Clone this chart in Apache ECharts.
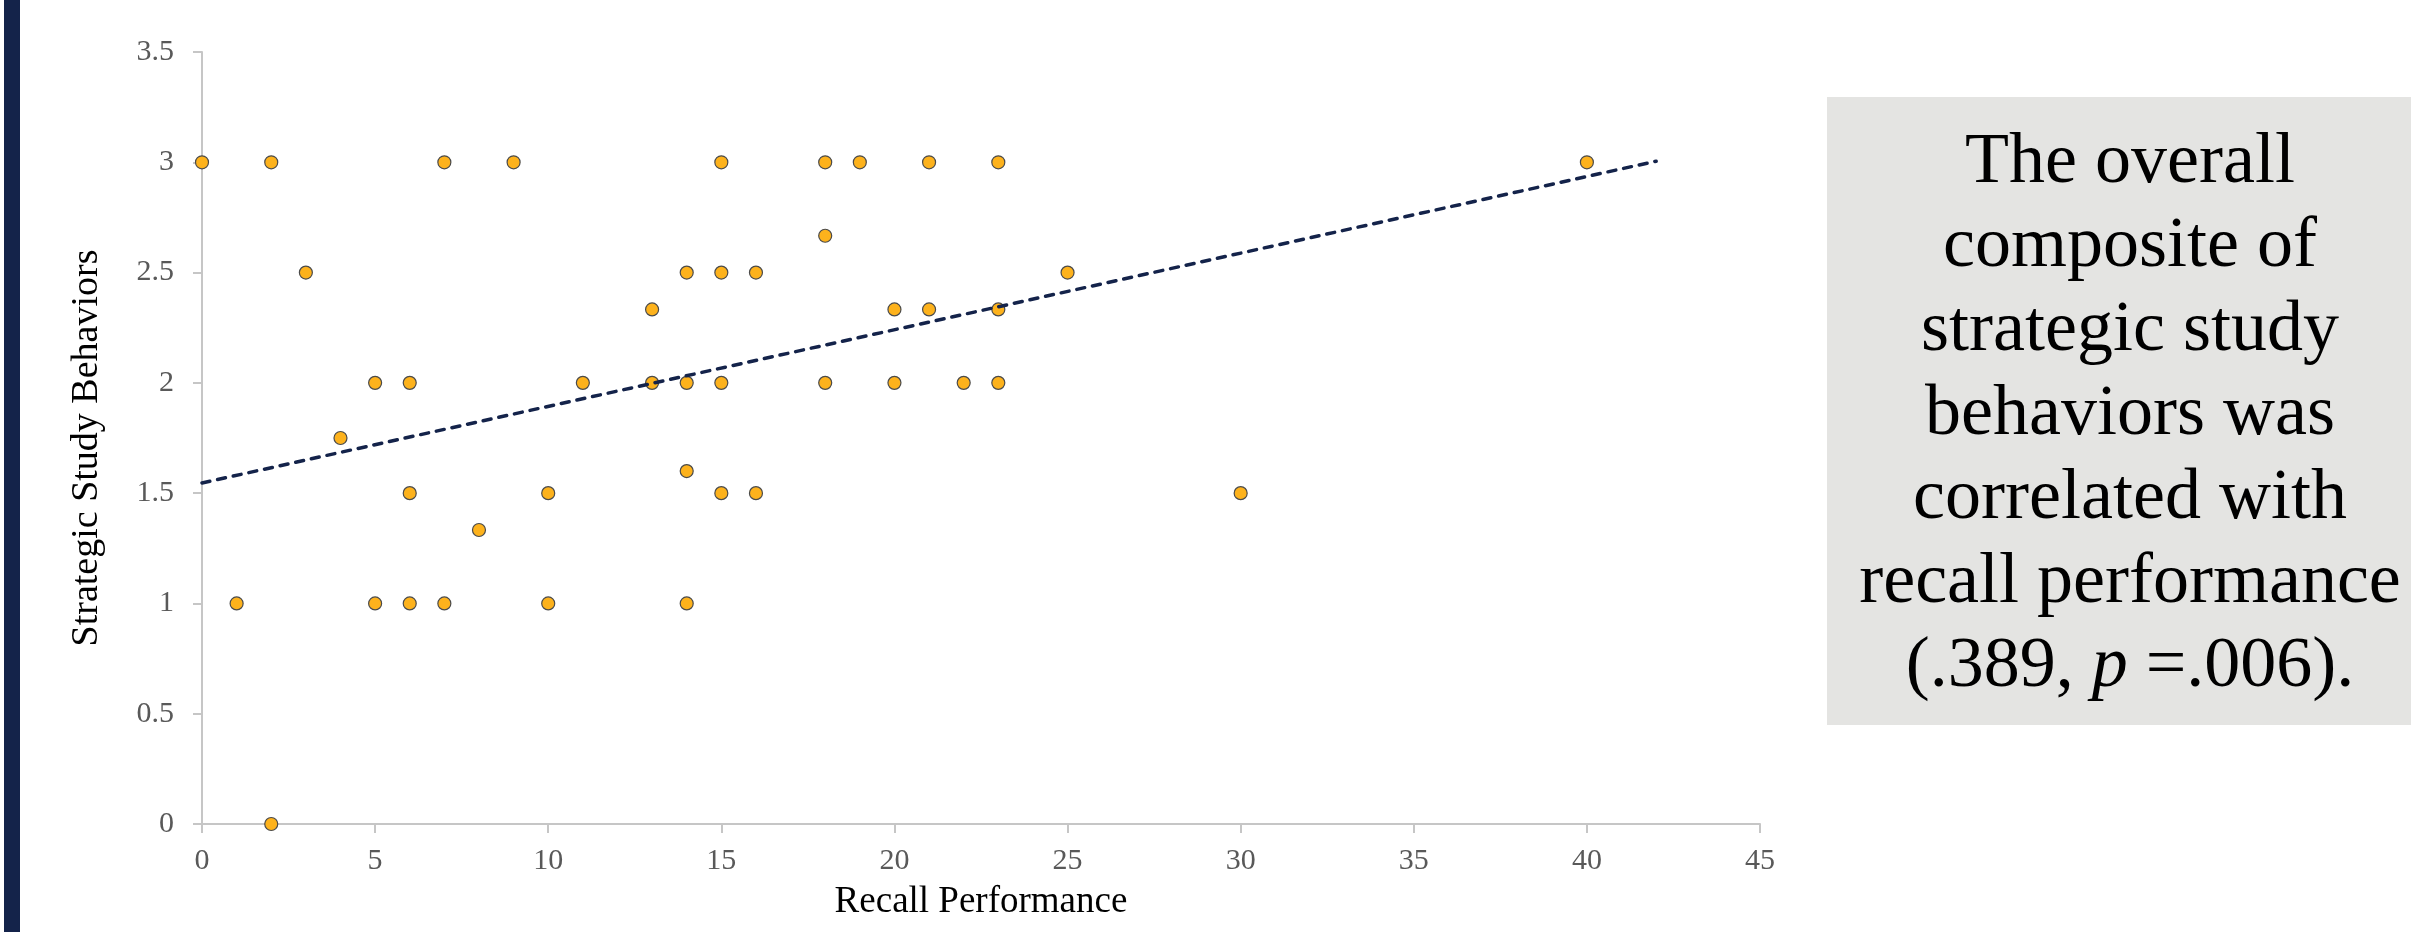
<!DOCTYPE html>
<html>
<head>
<meta charset="utf-8">
<style>
  html, body { margin: 0; padding: 0; background: #ffffff; }
  #chart { width: 2411px; height: 932px; }
</style>
<script src="https://cdn.jsdelivr.net/npm/echarts@6/dist/echarts.min.js"></script>
</head>
<body>
<div id="chart"></div>
<script>
// ---- data ----
const recallPerformance = [0, 2, 7, 9, 15, 18, 19, 21, 23, 40,
  3, 14, 15, 16, 25,
  18,
  13, 20, 21, 23,
  5, 6, 11, 13, 14, 15, 18, 20, 22, 23,
  4,
  6, 10, 14, 15, 16, 30,
  8,
  1, 5, 6, 7, 10, 14,
  2];
const strategicBehaviors = [3, 3, 3, 3, 3, 3, 3, 3, 3, 3,
  2.5, 2.5, 2.5, 2.5, 2.5,
  2.667,
  2.333, 2.333, 2.333, 2.333,
  2, 2, 2, 2, 2, 2, 2, 2, 2, 2,
  1.75,
  1.5, 1.5, 1.6, 1.5, 1.5, 1.5,
  1.333,
  1, 1, 1, 1, 1, 1,
  0];
// linear trendline endpoints
const trendX = [0, 42];
const trendY = [1.546, 3.005];
// tick values
const xTicks = [0, 5, 10, 15, 20, 25, 30, 35, 40, 45];
const yTicks = [0, 0.5, 1, 1.5, 2, 2.5, 3, 3.5];
const xTitle = 'Recall Performance';
const yTitle = 'Strategic Study Behaviors';
const noteLines = ['The overall', 'composite of', 'strategic study', 'behaviors was',
  'correlated with', 'recall performance', '(.389, {i|p} =.006).'];

const scatterData = recallPerformance.map((x, i) => [x, strategicBehaviors[i]]);
const trendData = trendX.map((x, i) => [x, trendY[i]]);

const serif = '"Liberation Serif", "Times New Roman", serif';
const axisGray = '#c6c6c6';
const labelGray = '#595959';

const chart = echarts.init(document.getElementById('chart'), null, { renderer: 'canvas' });
chart.setOption({
  backgroundColor: '#ffffff',
  animation: false,
  grid: { left: 202, right: 651, top: 52, bottom: 108, containLabel: false },
  xAxis: {
    type: 'value',
    min: xTicks[0], max: xTicks[xTicks.length - 1], interval: xTicks[1] - xTicks[0],
    name: xTitle, nameLocation: 'middle', nameGap: 60,
    nameTextStyle: { fontFamily: serif, fontSize: 37, color: '#000000' },
    axisLine: { show: true, lineStyle: { color: axisGray, width: 2 } },
    axisTick: { show: true, inside: false, length: 9, lineStyle: { color: axisGray, width: 2 } },
    axisLabel: { margin: 22, fontFamily: serif, fontSize: 30, color: labelGray },
    splitLine: { show: false }
  },
  yAxis: {
    type: 'value',
    min: yTicks[0], max: yTicks[yTicks.length - 1], interval: yTicks[1] - yTicks[0],
    name: yTitle, nameLocation: 'middle', nameGap: 96, nameRotate: 90,
    nameTextStyle: { fontFamily: serif, fontSize: 38, color: '#000000', padding: [0, 20, 0, 0] },
    axisLine: { show: true, lineStyle: { color: axisGray, width: 2 } },
    axisTick: { show: true, inside: false, length: 9, lineStyle: { color: axisGray, width: 2 } },
    axisLabel: { margin: 28, fontFamily: serif, fontSize: 30, color: labelGray },
    splitLine: { show: false }
  },
  series: [
    {
      type: 'line',
      data: trendData,
      showSymbol: false,
      symbol: 'none',
      silent: true,
      z: 3,
      lineStyle: { color: '#14234a', width: 3.5, type: [8, 8], cap: 'round' }
    },
    {
      type: 'scatter',
      data: scatterData,
      symbol: 'circle',
      symbolSize: 13,
      z: 2,
      itemStyle: { color: '#fdb21c', borderColor: '#4a4a4a', borderWidth: 1.2, opacity: 1 }
    }
  ],
  graphic: [
    { type: 'rect', left: 4, top: 0, shape: { width: 16, height: 932 }, style: { fill: '#14234a' }, silent: true },
    { type: 'rect', left: 1827, top: 97, shape: { width: 620, height: 628 }, style: { fill: '#e4e4e2' }, silent: true, z: 0 },
    {
      type: 'text', x: 2130, y: 121, silent: true, z: 1,
      style: {
        text: noteLines.join('\n'),
        align: 'center', verticalAlign: 'top',
        fontFamily: serif, fontSize: 72, lineHeight: 84, fill: '#000000',
        rich: { i: { fontFamily: serif, fontSize: 72, fontStyle: 'italic', lineHeight: 84, fill: '#000000' } }
      }
    }
  ]
});
</script>
</body>
</html>
